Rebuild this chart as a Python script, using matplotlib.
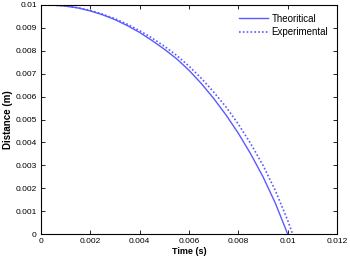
import matplotlib.pyplot as plt
from matplotlib.ticker import FuncFormatter

plt.rcParams['font.family'] = ['Liberation Sans', 'DejaVu Sans']

# Values (time in s, distance in m)
t_theory = [0, 0.0005, 0.001, 0.0015, 0.002, 0.0025, 0.003, 0.0035, 0.004, 0.0045, 0.005,
            0.0055, 0.006, 0.0065, 0.007, 0.0075, 0.008, 0.0085, 0.009, 0.0095, 0.01]
d_theory = [0.01, 0.00999, 0.00995, 0.00987, 0.00974, 0.00957, 0.00936, 0.0091, 0.0088,
            0.00845, 0.00807, 0.00765, 0.00715, 0.00657, 0.00592, 0.0052, 0.0044, 0.0035,
            0.0025, 0.00135, 0]

t_exp = [0, 0.0005, 0.001, 0.0015, 0.002, 0.0025, 0.003, 0.0035, 0.004, 0.0045, 0.005,
         0.0055, 0.006, 0.0065, 0.007, 0.0075, 0.008, 0.0085, 0.009, 0.0095, 0.01, 0.0102]
d_exp = [0.01, 0.00999, 0.00996, 0.00988, 0.00976, 0.0096, 0.0094, 0.00916, 0.00888,
         0.00856, 0.0082, 0.0078, 0.00733, 0.0068, 0.0062, 0.00555, 0.0048, 0.00395,
         0.003, 0.0019, 0.0006, 0]

blue = '#5a5aff'

fig = plt.figure(figsize=(3.5, 2.61), dpi=100)
ax = fig.add_axes([0.117, 0.103, 0.846, 0.878])

ax.plot(t_theory, d_theory, '-', color=blue, lw=1.0, label='Theoritical')
ax.plot(t_exp, d_exp, linestyle=(0, (1, 1.3)), color=blue, lw=1.2, label='Experimental')

ax.set_xlim(0, 0.012)
ax.set_ylim(0, 0.01)
ax.set_xticks([0, 0.002, 0.004, 0.006, 0.008, 0.01, 0.012])
ax.set_yticks([i / 1000 for i in range(11)])
fmt = FuncFormatter(lambda v, p: '%g' % round(v, 4))
ax.xaxis.set_major_formatter(fmt)
ax.yaxis.set_major_formatter(fmt)
ax.tick_params(direction='in', top=True, right=True, labelsize=6, length=3, width=0.6, pad=3)
for s in ax.spines.values():
    s.set_linewidth(0.8)

ax.set_xlabel('Time (s)', fontsize=6.5, fontweight='bold', labelpad=1)
ax.set_ylabel('Distance (m)', fontsize=7, fontweight='bold', labelpad=2)

ax.legend(loc='upper right', frameon=False, fontsize=7, handlelength=3.0,
          handletextpad=0.4, labelspacing=0.35, borderaxespad=0.5)

fig.savefig('out.png', dpi=100)
